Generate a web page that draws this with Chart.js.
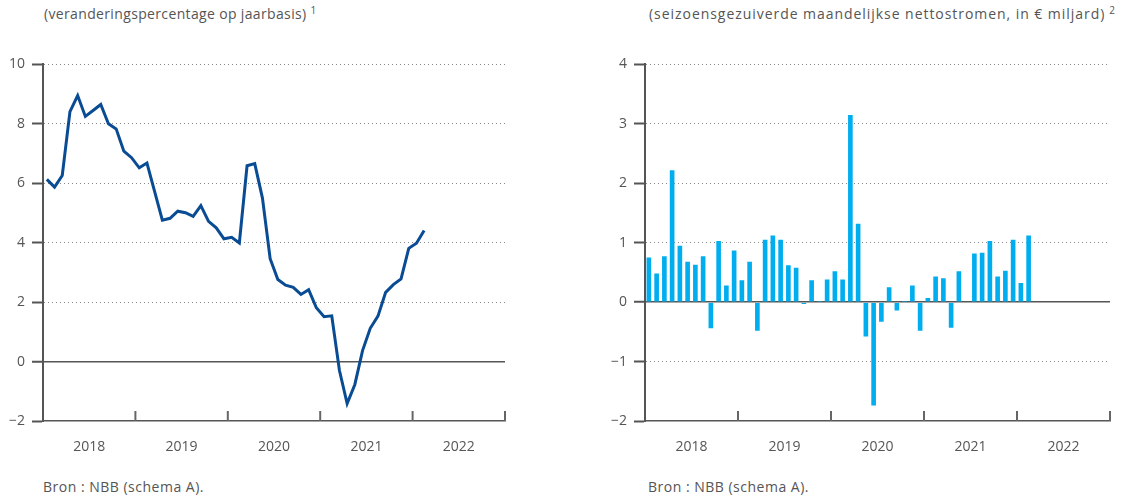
<!DOCTYPE html>
<html lang="nl">
<head>
<meta charset="utf-8">
<script src="https://cdn.jsdelivr.net/npm/chart.js@4"></script>
<style>
    body { margin: 0; width: 1124px; height: 498px; background: #fff; position: relative; overflow: hidden; font-family: 'Open Sans', sans-serif; color: #555; }
    .titel, .bron { position: absolute; font-size: 14px; white-space: nowrap; }
    .bron { letter-spacing: 0.5px; }
    .voetnoot { font-size: 10px; position: relative; top: -5px; margin-left: 4px; }
    .paneel { position: absolute; top: 49px; height: 405px; }
</style>
</head>
<body>
<div class="titel" style="left:44px; top:4px; letter-spacing:0.35px">(veranderingspercentage op jaarbasis)<span class="voetnoot">1</span></div>
<div class="titel" style="left:649px; top:4px; letter-spacing:0.95px">(seizoensgezuiverde maandelijkse nettostromen, in € miljard)<span class="voetnoot">2</span></div>
<div class="paneel" style="left:0; width:530px"><canvas id="groeiGrafiek" width="530" height="405"></canvas></div>
<div class="paneel" style="left:560px; width:564px"><canvas id="stromenGrafiek" width="564" height="405"></canvas></div>
<div class="bron" style="left:43px; top:477px">Bron : NBB (schema A).</div>
<div class="bron" style="left:648px; top:477px">Bron : NBB (schema A).</div>

<script>
// maandelijkse waarden, januari 2018 t/m februari 2022
const jaren = ['2018', '2019', '2020', '2021', '2022'];

const jaarGroei = [
    6.13, 5.87, 6.26, 8.41, 8.95, 8.25, 8.45, 8.65, 8.0, 7.83,
    7.08, 6.86, 6.52, 6.68, 5.72, 4.76, 4.82, 5.06, 5.01, 4.89,
    5.25, 4.72, 4.5, 4.13, 4.18, 3.99, 6.59, 6.66, 5.5, 3.46,
    2.76, 2.57, 2.5, 2.26, 2.42, 1.81, 1.51, 1.54, -0.3, -1.41,
    -0.77, 0.37, 1.12, 1.53, 2.33, 2.59, 2.78, 3.81, 3.98, 4.41
];

const nettoStromen = [
    0.75, 0.48, 0.77, 2.22, 0.95, 0.68, 0.63, 0.77, -0.44, 1.03,
    0.28, 0.87, 0.37, 0.68, -0.48, 1.05, 1.12, 1.05, 0.62, 0.58,
    -0.03, 0.37, 0.02, 0.38, 0.52, 0.38, 3.15, 1.32, -0.58, -1.74,
    -0.33, 0.25, -0.14, 0.02, 0.28, -0.48, 0.07, 0.43, 0.40, -0.43,
    0.52, null, 0.82, 0.83, 1.03, 0.43, 0.53, 1.05, 0.32, 1.12
];

const groeiTicks = [-2, 0, 2, 4, 6, 8, 10];
const stromenTicks = [-2, -1, 0, 1, 2, 3, 4];

const tekstKleur = '#555';
const asKleur = '#555';
const font = { family: "'Open Sans', sans-serif", size: 14 };

function naarPunten(reeks) {
    return reeks.map(function (v, i) {
        return { x: i + 0.5, y: v };
    });
}

function minTeken(v) {
    return v < 0 ? '\u2212' + Math.abs(v) : String(v);
}

// jaarstreepjes naar binnen op de x-as
const jaarStreepjes = {
    id: 'jaarStreepjes',
    afterDraw(chart) {
        const ctx = chart.ctx;
        const x = chart.scales.x;
        const onder = chart.chartArea.bottom;
        ctx.save();
        ctx.strokeStyle = '#666';
        ctx.lineWidth = 2;
        for (let j = 1; j <= jaren.length; j++) {
            const px = x.getPixelForValue(j * 12);
            ctx.beginPath();
            ctx.moveTo(px, onder - 10);
            ctx.lineTo(px, onder);
            ctx.stroke();
        }
        ctx.restore();
    }
};

function schalen(ticks, asBreedte) {
    return {
        x: {
            type: 'linear',
            min: 0,
            max: jaren.length * 12,
            offset: false,
            afterBuildTicks(scale) {
                scale.ticks = jaren.map(function (j, i) { return { value: i * 12 + 6 }; });
            },
            afterFit(scale) { scale.height = 33; },
            grid: { display: false, offset: false },
            border: { display: true, color: asKleur, width: 1.5 },
            ticks: {
                padding: 10,
                color: tekstKleur,
                font: font,
                maxRotation: 0,
                autoSkip: false,
                callback: function (v) { return jaren[Math.floor(v / 12)]; }
            }
        },
        y: {
            min: ticks[0],
            max: ticks[ticks.length - 1],
            afterBuildTicks(scale) {
                scale.ticks = ticks.map(function (v) { return { value: v }; });
            },
            afterFit(scale) { scale.width = asBreedte; },
            grid: {
                color: function (c) {
                    if (c.tick.value === ticks[0]) return 'rgba(0,0,0,0)';
                    return c.tick.value === 0 ? '#555' : '#8a8a8a';
                },
                lineWidth: function (c) { return c.tick.value === 0 ? 1.5 : 1; },
                tickColor: asKleur,
                tickLength: 11,
                tickWidth: 2,
                tickBorderDash: []
            },
            border: {
                display: true,
                color: asKleur,
                width: 2,
                dash: function (c) { return c.tick && c.tick.value === 0 ? [] : [1, 3]; }
            },
            ticks: {
                padding: 7,
                color: tekstKleur,
                font: font,
                callback: minTeken
            }
        }
    };
}

document.addEventListener('DOMContentLoaded', function () {
    new Chart(document.getElementById('groeiGrafiek'), {
        type: 'line',
        data: {
            datasets: [{
                data: naarPunten(jaarGroei),
                borderColor: '#0a4c94',
                borderWidth: 3,
                pointRadius: 0,
                tension: 0,
                fill: false
            }]
        },
        options: {
            responsive: false,
            animation: false,
            layout: { padding: { top: 10, right: 25, left: 0, bottom: 0 } },
            plugins: { legend: { display: false }, tooltip: { enabled: false } },
            scales: schalen(groeiTicks, 43)
        },
        plugins: [jaarStreepjes]
    });

    new Chart(document.getElementById('stromenGrafiek'), {
        type: 'bar',
        data: {
            datasets: [{
                data: naarPunten(nettoStromen),
                backgroundColor: '#00aeef',
                barPercentage: 0.6,
                categoryPercentage: 1
            }]
        },
        options: {
            responsive: false,
            animation: false,
            layout: { padding: { top: 10, right: 14, left: 0, bottom: 0 } },
            plugins: { legend: { display: false }, tooltip: { enabled: false } },
            scales: schalen(stromenTicks, 85)
        },
        plugins: [jaarStreepjes]
    });
});
</script>
</body>
</html>
